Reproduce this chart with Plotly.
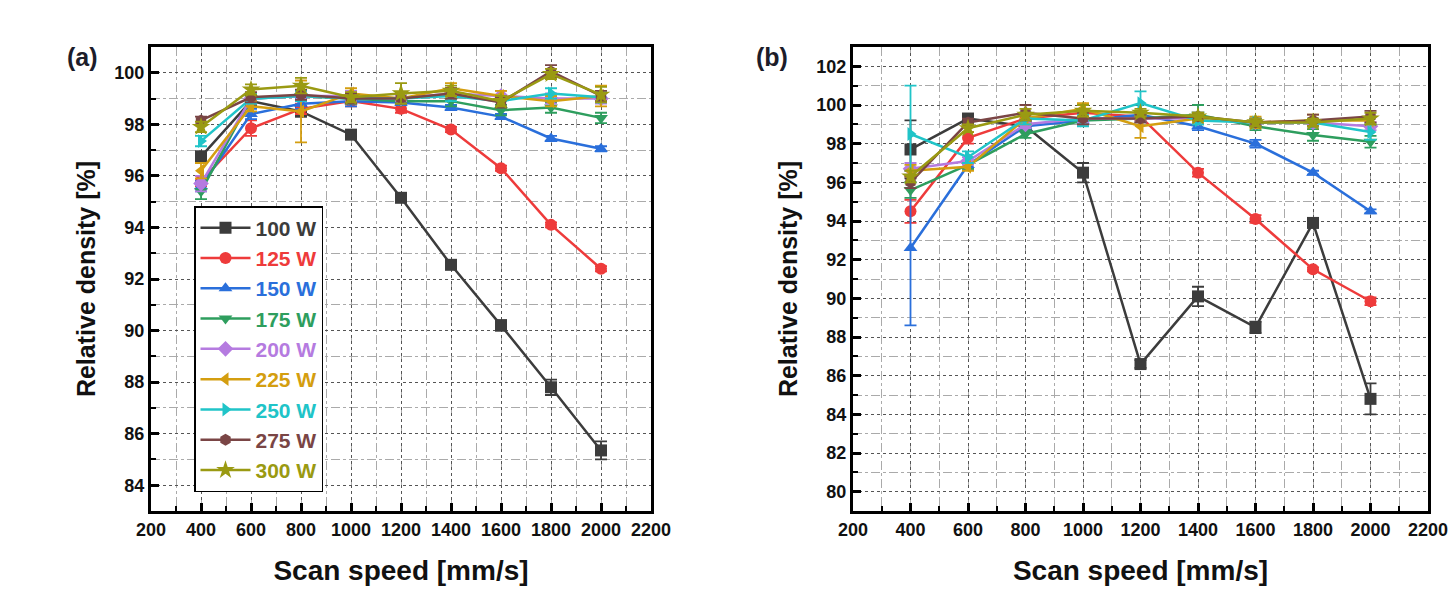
import plotly.graph_objects as go

speeds = [400, 600, 800, 1000, 1200, 1400, 1600, 1800, 2000]
powers = ["100 W", "125 W", "150 W", "175 W", "200 W", "225 W", "250 W", "275 W", "300 W"]
colors = ["#3c3c3c", "#ee3b3b", "#2a6fdb", "#2e9e5e", "#b57be0", "#d49e10", "#20c4c8", "#7a4545", "#9a9a12"]
symbols = ["square", "circle", "triangle-up", "triangle-down", "diamond",
           "triangle-left", "triangle-right", "hexagon", "star"]

# Panel (a) relative density [%]
dens_a = [
    [96.75, 98.9, 98.5, 97.6, 95.15, 92.55, 90.2, 87.8, 85.35],
    [95.8, 97.85, 98.6, 98.9, 98.6, 97.8, 96.3, 94.1, 92.4],
    [95.6, 98.4, 98.8, 98.9, 98.85, 98.65, 98.3, 97.45, 97.05],
    [95.4, 99.0, 99.1, 99.0, 98.9, 98.9, 98.55, 98.65, 98.25],
    [95.7, 99.0, 99.1, 99.1, 99.0, 99.2, 99.1, 99.0, 99.0],
    [96.2, 98.7, 98.5, 99.2, 99.0, 99.4, 99.1, 98.9, 99.1],
    [97.35, 99.0, 99.1, 99.0, 99.0, 99.1, 98.9, 99.2, 99.05],
    [98.15, 99.05, 99.15, 99.0, 99.0, 99.2, 98.85, 100.05, 99.1],
    [97.9, 99.35, 99.5, 99.05, 99.2, 99.3, 98.9, 99.95, 99.15],
]
err_a = [
    [0.2, 0.2, 0.2, 0.15, 0.15, 0.15, 0.2, 0.3, 0.35],
    [0.2, 0.3, 0.2, 0.2, 0.15, 0.1, 0.1, 0.1, 0.1],
    [0.2, 0.2, 0.2, 0.2, 0.1, 0.1, 0.1, 0.1, 0.1],
    [0.3, 0.2, 0.2, 0.2, 0.1, 0.2, 0.2, 0.2, 0.2],
    [0.3, 0.2, 0.2, 0.2, 0.1, 0.2, 0.2, 0.2, 0.2],
    [0.3, 0.2, 1.2, 0.2, 0.2, 0.2, 0.2, 0.2, 0.4],
    [0.2, 0.2, 0.2, 0.2, 0.2, 0.2, 0.2, 0.2, 0.2],
    [0.15, 0.2, 0.2, 0.2, 0.2, 0.2, 0.2, 0.25, 0.2],
    [0.2, 0.2, 0.3, 0.2, 0.4, 0.2, 0.2, 0.2, 0.3],
]

# Panel (b) relative density [%]
dens_b = [
    [97.7, 99.3, 98.9, 96.5, 86.6, 90.1, 88.5, 93.9, 84.8],
    [94.5, 98.3, 99.3, 99.6, 99.4, 96.5, 94.1, 91.5, 89.85],
    [92.6, 96.9, 98.9, 99.2, 99.5, 98.9, 98.0, 96.5, 94.5],
    [95.6, 96.9, 98.5, 99.2, 99.3, 99.5, 98.9, 98.45, 98.1],
    [96.7, 97.1, 99.0, 99.3, 99.3, 99.3, 99.1, 99.1, 98.9],
    [96.6, 96.8, 99.3, 99.8, 98.9, 99.3, 99.1, 99.2, 99.2],
    [98.5, 97.3, 99.3, 99.2, 100.1, 99.2, 99.1, 99.1, 98.6],
    [96.0, 99.1, 99.6, 99.3, 99.3, 99.4, 99.1, 99.2, 99.4],
    [96.3, 98.8, 99.5, 99.7, 99.6, 99.4, 99.1, 99.1, 99.3],
]
err_b = [
    [1.5, 0.2, 0.2, 0.5, 0.2, 0.5, 0.3, 0.2, 0.8],
    [0.6, 0.3, 0.2, 0.2, 0.2, 0.2, 0.2, 0.1, 0.2],
    [4.0, 0.2, 0.2, 0.2, 0.2, 0.2, 0.2, 0.1, 0.1],
    [0.4, 0.2, 0.2, 0.2, 0.2, 0.5, 0.2, 0.3, 0.3],
    [0.3, 0.2, 0.2, 0.2, 0.2, 0.2, 0.2, 0.2, 0.2],
    [0.3, 0.2, 0.3, 0.3, 0.6, 0.2, 0.3, 0.3, 0.2],
    [2.5, 0.3, 0.3, 0.3, 0.6, 0.2, 0.2, 0.2, 0.4],
    [0.3, 0.2, 0.4, 0.3, 0.2, 0.2, 0.2, 0.3, 0.3],
    [0.3, 0.2, 0.3, 0.3, 0.2, 0.2, 0.2, 0.2, 0.3],
]

FONT = "Liberation Sans, Arial, sans-serif"

fig = go.Figure()

for panel, (dens, errs, xa, ya) in enumerate([(dens_a, err_a, "x", "y"), (dens_b, err_b, "x2", "y2")]):
    for i in range(len(powers)):
        fig.add_trace(go.Scatter(
            x=speeds, y=dens[i], xaxis=xa, yaxis=ya,
            mode="lines+markers",
            name=f"<b><span style='color:{colors[i]}'>{powers[i]}</span></b>",
            showlegend=(panel == 0),
            line=dict(color=colors[i], width=2.5),
            marker=dict(symbol=symbols[i], size=12 if symbols[i] != "star" else 14,
                        color=colors[i], line=dict(width=0)),
            error_y=dict(type="data", array=errs[i], visible=True,
                         color=colors[i], thickness=1.8, width=6),
        ))

TICKFONT = dict(family=FONT, size=18, color="#111111", weight="bold")

def xaxis_style(domain):
    return dict(
        domain=domain, range=[200, 2200], tickmode="array", automargin=False,
        tickvals=list(range(200, 2201, 200)),
        ticks="inside", ticklen=8, tickwidth=2.5, tickcolor="black",
        showline=True, linewidth=3, linecolor="black", mirror=True,
        showgrid=True, gridcolor="#555555", griddash="dot", gridwidth=1,
        minor=dict(dtick=100, ticks="inside", ticklen=5, tickwidth=2, tickcolor="black",
                   showgrid=True, gridcolor="#aaaaaa", griddash="dashdot", gridwidth=1),
        tickfont=TICKFONT,
        title=dict(text="<b>Scan speed [mm/s]</b>", font=dict(family=FONT, size=28, color="#111111"),
                   standoff=22),
        zeroline=False,
    )

def yaxis_style(domain, rng, dtick, anchor):
    return dict(
        domain=domain, range=rng, dtick=dtick, anchor=anchor, automargin=False,
        ticks="inside", ticklen=8, tickwidth=2.5, tickcolor="black",
        showline=True, linewidth=3, linecolor="black", mirror=True,
        showgrid=True, gridcolor="#555555", griddash="dot", gridwidth=1,
        minor=dict(dtick=dtick / 2, ticks="inside", ticklen=5, tickwidth=2, tickcolor="black",
                   showgrid=True, gridcolor="#aaaaaa", griddash="dashdot", gridwidth=1),
        tickfont=TICKFONT,
        title=dict(text="<b>Relative density [%]</b>", font=dict(family=FONT, size=25, color="#111111"),
                   standoff=12),
        zeroline=False,
    )

ydom = [1 - 511 / 603, 1 - 47 / 603]
fig.update_layout(
    width=1452, height=603,
    margin=dict(l=0, r=0, t=0, b=0),
    paper_bgcolor="white", plot_bgcolor="white",
    xaxis=xaxis_style([151 / 1452, 651 / 1452]),
    yaxis=yaxis_style(ydom, [83, 101], 2, "x"),
    xaxis2=dict(xaxis_style([853 / 1452, 1428 / 1452]), anchor="y2"),
    yaxis2=yaxis_style(ydom, [79, 103], 2, "x2"),
    legend=dict(
        x=194 / 1452, y=1 - 206 / 603, xanchor="left", yanchor="top",
        bgcolor="white", bordercolor="black", borderwidth=1.5,
        font=dict(family=FONT, size=21),
        tracegroupgap=0, itemwidth=50,
    ),
    showlegend=True,
    annotations=[
        dict(text="<b>(a)</b>", x=82 / 1452, y=1 - 57 / 603, xref="paper", yref="paper",
             xanchor="center", yanchor="middle",
             showarrow=False, font=dict(family=FONT, size=25, color="#1c1c2a")),
        dict(text="<b>(b)</b>", x=772 / 1452, y=1 - 57 / 603, xref="paper", yref="paper",
             xanchor="center", yanchor="middle",
             showarrow=False, font=dict(family=FONT, size=25, color="#1c1c2a")),
    ],
)

fig.write_html("out.html")
